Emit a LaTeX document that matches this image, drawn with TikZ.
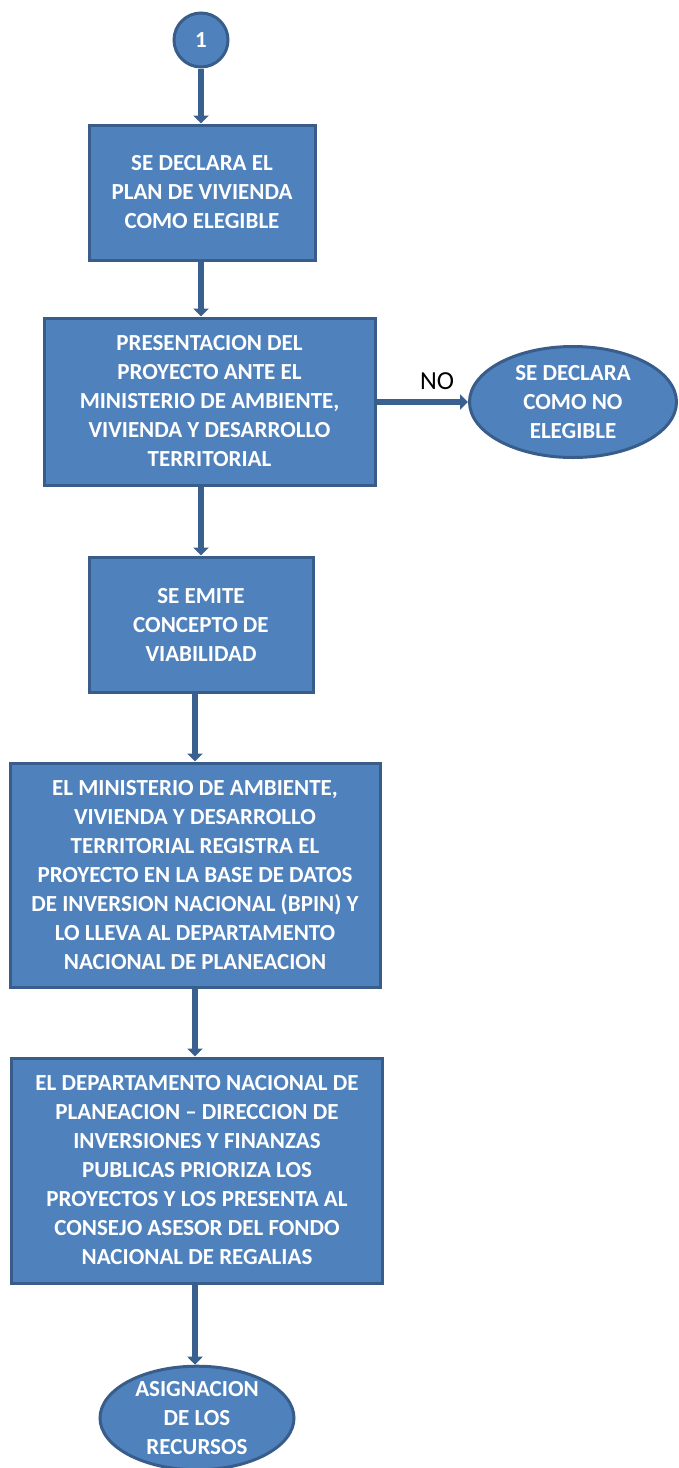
\documentclass[tikz,border=0pt]{standalone}
\usepackage{fontspec}
\setmainfont{Carlito}
\usetikzlibrary{shapes.geometric,arrows.meta}
\definecolor{fillb}{RGB}{79,129,189}
\definecolor{edgeb}{RGB}{56,93,138}
\definecolor{arrb}{RGB}{58,96,143}
\begin{document}
\begin{tikzpicture}[x=1pt,y=-1pt,
  base/.style={draw=edgeb, line width=3pt, fill=fillb, inner sep=0pt, text=white,
    font=\bfseries\fontsize{23}{29}\selectfont, align=center},
  box/.style={base, rectangle},
  oval/.style={base, ellipse},
  conn/.style={draw=arrb, line width=6.5pt, -{Triangle[width=15pt,length=8pt]}},
  lbl/.style={font=\fontsize{26}{28}\selectfont, text=black, inner sep=0pt}]
\useasboundingbox (0,0) rectangle (678,1468);
\node[base, circle, minimum size=54pt] (start) at (201,40) {1};
\node[box, minimum width=226pt, minimum height=135pt] (b1) at (202,192.5)
  {SE DECLARA EL\\PLAN DE VIVIENDA\\COMO ELEGIBLE};
\node[box, minimum width=331pt, minimum height=167pt] (b2) at (209.5,401.5)
  {PRESENTACION DEL\\PROYECTO ANTE EL\\MINISTERIO DE AMBIENTE,\\VIVIENDA Y DESARROLLO\\TERRITORIAL};
\node[oval, minimum width=207pt, minimum height=111pt] (e1) at (573,402)
  {SE DECLARA\\COMO NO\\ELEGIBLE};
\node[box, minimum width=224pt, minimum height=135pt] (b3) at (201,624.5)
  {SE EMITE\\CONCEPTO DE\\VIABILIDAD};
\node[box, minimum width=370pt, minimum height=224pt] (b4) at (195,875)
  {EL MINISTERIO DE AMBIENTE,\\VIVIENDA Y DESARROLLO\\TERRITORIAL REGISTRA EL\\PROYECTO EN LA BASE DE DATOS\\DE INVERSION NACIONAL (BPIN) Y\\LO LLEVA AL DEPARTAMENTO\\NACIONAL DE PLANEACION};
\node[box, minimum width=371pt, minimum height=225pt] (b5) at (197,1170.5)
  {EL DEPARTAMENTO NACIONAL DE\\PLANEACION -- DIRECCION DE\\INVERSIONES Y FINANZAS\\PUBLICAS PRIORIZA LOS\\PROYECTOS Y LOS PRESENTA AL\\CONSEJO ASESOR DEL FONDO\\NACIONAL DE REGALIAS};
\node[oval, minimum width=194pt, minimum height=96pt] (e2) at (197,1418)
  {ASIGNACION\\DE LOS\\RECURSOS};
\draw[conn] (start) -- (start |- b1.north);
\draw[conn] (b1.south -| start) -- (start |- b2.north);
\draw[conn] (b2.south -| start) -- (start |- b3.north);
\draw[conn] (b3.south -| b4) -- (b4.north);
\draw[conn] (b4.south) -- (b5.north -| b4);
\draw[conn] (b5.south -| b4) -- (e2.north -| b4);
\draw[conn] (b2.east |- e1) -- (e1.west);
\node[lbl] (no) at (437,381) {NO};
\end{tikzpicture}
\end{document}
